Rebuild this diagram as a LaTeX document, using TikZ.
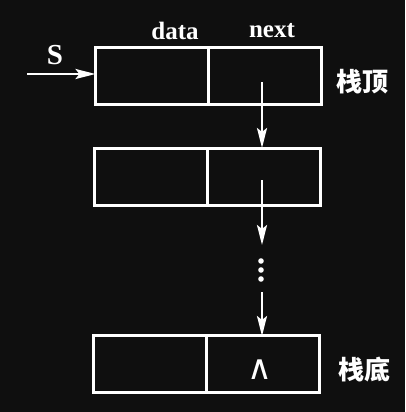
\documentclass[tikz,border=0pt]{standalone}
\usepackage{fontspec}
\setmainfont{Liberation Serif}
\newfontfamily\cjk{Noto Sans CJK SC}
\newfontfamily\symf{DejaVu Sans}
\usetikzlibrary{arrows.meta}
\definecolor{bg}{HTML}{0F0F0F}
\begin{document}
\begin{tikzpicture}[x=1pt,y=-1pt,
  line width=2.4pt,
  cell/.style={draw=white,line width=2.4pt,minimum width=113pt,minimum height=57pt,inner sep=0pt,outer sep=0pt},
  lnk/.style={draw=white,line width=2.4pt,-{Stealth[length=20pt,width=10pt,inset=4pt]}},
  lbl/.style={text=white,font=\fontsize{25}{27}\selectfont\bfseries,inner sep=0pt},
  zh/.style={text=white,font=\cjk\fontsize{26}{28}\selectfont\bfseries,inner sep=0pt}]
\fill[bg] (0,0) rectangle (405,412);
\useasboundingbox (0,0) rectangle (405,412);
% box 1
\node[cell] (d1) at (152,76) {};
\node[cell] (n1) at (265,76) {};
% box 2
\node[cell] (d2) at (151,177) {};
\node[cell] (n2) at (264,177) {};
% box 3
\node[cell] (d3) at (150,364) {};
\node[cell] (n3) at (263,364) {};
\node[text=white,font=\symf\fontsize{34}{36}\selectfont,inner sep=0pt] (nil) at (260,370) {∧};
% labels
\node[lbl] (ldata) at (175,31) {data};
\node[lbl] (lnext) at (272,31) {next};
\node[text=white,font=\fontsize{29}{31}\selectfont\bfseries,inner sep=0pt] (ls) at (55,55) {S};
\node[zh] (top) at (362,82) {栈顶};
\node[zh] (bot) at (364,370) {栈底};
% S pointer
\coordinate (sstart) at (27,74);
\draw[lnk] (sstart) -- (d1.west |- sstart);
% links
\draw[lnk] (262,82) -- (262,148);
\draw[lnk] (262,180) -- (262,245);
\foreach \yy [count=\i] in {261,270,279} \fill[white] (261,\yy) circle (2.8pt);
\draw[lnk] (262,292) -- (262,336);
\end{tikzpicture}
\end{document}
